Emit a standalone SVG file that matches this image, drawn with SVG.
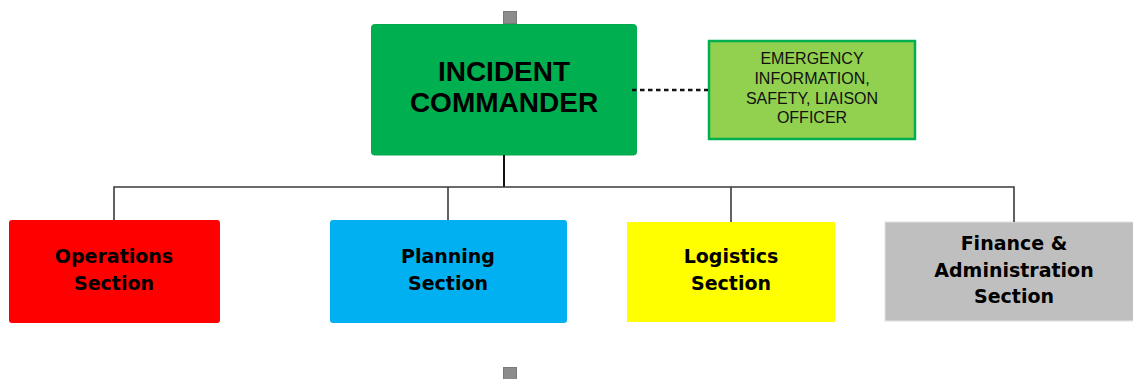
<svg xmlns="http://www.w3.org/2000/svg" width="1133" height="379" viewBox="0 0 1133 379">
<style>
.ic{font-family:"Liberation Sans",Arial,sans-serif;font-weight:bold;font-size:28px;fill:#000;text-anchor:middle}
.eo{font-family:"Liberation Sans",Arial,sans-serif;font-size:16px;fill:#111;text-anchor:middle}
.sec{font-family:"DejaVu Sans",Verdana,sans-serif;font-weight:bold;font-size:19px;fill:#000;text-anchor:middle}
.conn{fill:none;stroke:#3a3a3a;stroke-width:1.6}
.handle{fill:#8c8c8c;stroke:#7a7a7a;stroke-width:1}
</style>
<rect width="1133" height="379" fill="#fff"/>
<g id="handles">
<rect class="handle" x="503.5" y="11.5" width="13" height="12"/>
<rect class="handle" x="503.5" y="367.5" width="13" height="12"/>
</g>
<g id="incident-commander">
<rect x="371.5" y="24.5" width="265" height="130.5" rx="3" fill="#00b050" stroke="#00a84c" stroke-width="1"/>
<text class="ic" x="504" y="81">INCIDENT</text>
<text class="ic" x="504" y="112">COMMANDER</text>
</g>
<g id="officers">
<rect x="709" y="41" width="206" height="98" fill="#92d050" stroke="#00b050" stroke-width="2.5"/>
<text class="eo" x="812" y="64">EMERGENCY</text>
<text class="eo" x="812" y="84">INFORMATION,</text>
<text class="eo" x="812" y="104">SAFETY, LIAISON</text>
<text class="eo" x="812" y="123">OFFICER</text>
</g>
<g id="operations">
<rect x="9" y="220" width="211" height="103" rx="3" fill="#ff0000"/>
<text class="sec" x="114" y="263">Operations</text>
<text class="sec" x="114" y="290">Section</text>
</g>
<g id="planning">
<rect x="330" y="220" width="237" height="103" rx="3" fill="#00b0f0"/>
<text class="sec" x="448" y="263">Planning</text>
<text class="sec" x="448" y="290">Section</text>
</g>
<g id="logistics">
<rect x="627" y="222" width="208" height="100" fill="#ffff00"/>
<text class="sec" x="731" y="263">Logistics</text>
<text class="sec" x="731" y="290">Section</text>
</g>
<g id="finance">
<rect x="885" y="222" width="260" height="99" fill="#bfbfbf" stroke="#e2e2e2" stroke-width="1"/>
<text class="sec" x="1014" y="250">Finance &amp;</text>
<text class="sec" x="1014" y="277">Administration</text>
<text class="sec" x="1014" y="303">Section</text>
</g>
<g id="connectors">
<line x1="504" y1="155" x2="504" y2="187" stroke="#111" stroke-width="2"/>
<path class="conn" d="M114,220 V187 H1014 V222"/>
<line class="conn" x1="448" y1="187" x2="448" y2="220"/>
<line class="conn" x1="731" y1="187" x2="731" y2="222"/>
<line x1="632" y1="90" x2="708" y2="90" stroke="#111" stroke-width="2.5" stroke-dasharray="4.5,3.5"/>
</g>
</svg>
